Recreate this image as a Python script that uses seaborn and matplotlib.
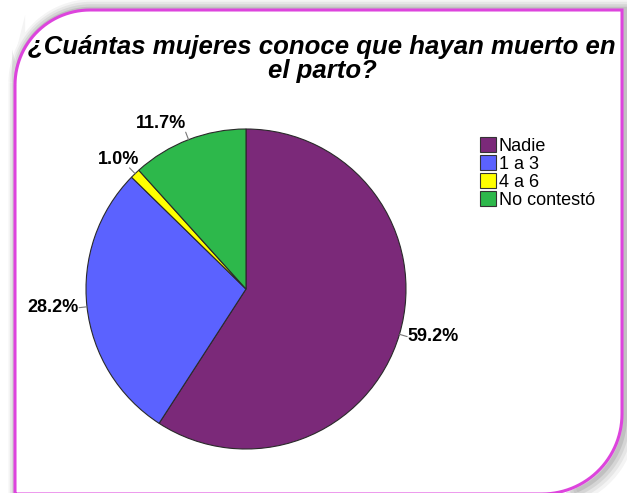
"""
Pie chart: ¿Cuántas mujeres conoce que hayan muerto en el parto?
SPSS-style pie with a rounded magenta frame
"""

import numpy as np
import matplotlib.pyplot as plt
import seaborn as sns
from matplotlib.path import Path
from matplotlib.patches import PathPatch, Patch

# Data
categories = ['Nadie', '1 a 3', '4 a 6', 'No contestó']
percentages = [59.2, 28.2, 1.0, 11.7]
slice_colors = ['#7B2979', '#5B62FF', '#FFFF00', '#2DB84B']
title = '¿Cuántas mujeres conoce que hayan muerto en\nel parto?'

W, H = 627, 493

sns.set_theme(style='white')
plt.rcParams['font.family'] = ['Liberation Sans', 'DejaVu Sans']
plt.rcParams['text.color'] = 'black'

fig = plt.figure(figsize=(W / 100, H / 100), dpi=100)
fig.patch.set_facecolor('white')

# Background axes in pixel coordinates for the frame decoration
bg = fig.add_axes([0, 0, 1, 1])
bg.set_xlim(0, W)
bg.set_ylim(H, 0)
bg.axis('off')


def frame_path(left, top, right, bottom, r1, r2, n=30):
    """Rectangle with rounded top-left and bottom-right corners"""
    pts = [(left, bottom + 20), (left, top + r1)]
    a = np.linspace(np.pi, 1.5 * np.pi, n)
    pts += [(left + r1 + r1 * np.cos(t), top + r1 + r1 * np.sin(t)) for t in a]
    pts += [(right, top), (right, bottom - r2)]
    a = np.linspace(0, 0.5 * np.pi, n)
    pts += [(right - r2 + r2 * np.cos(t), bottom - r2 + r2 * np.sin(t)) for t in a]
    pts += [(left, bottom), (left, bottom + 20)]
    return Path(pts)


# Soft gray shadow, then the white card and magenta outline
for off, lw, alpha in [(6, 12, 0.06), (5, 9, 0.08), (4, 6, 0.10), (3, 3, 0.14)]:
    p = frame_path(15 + off * 0.3, 10 - off * 0.4, 622 + off, 494 + off, 75, 80)
    bg.add_patch(PathPatch(p, facecolor='none', edgecolor='#444444',
                           lw=lw, alpha=alpha, zorder=1))
fp = frame_path(15, 10, 622, 494, 75, 80)
bg.add_patch(PathPatch(fp, facecolor='white', edgecolor='none', zorder=2))

# Title
fig.text(322 / W, 1 - 35 / H, title, ha='center', va='top',
         fontsize=18.5, fontweight='bold', style='italic',
         linespacing=1.0, color='black', zorder=3)

bg.add_patch(PathPatch(fp, facecolor='none', edgecolor='#DD44DD',
                       lw=2.2, zorder=10))

# Pie axes: center (246, 289), radius 160 px
cx, cy, rad = 246, 289, 160
ax = fig.add_axes([(cx - rad) / W, (H - cy - rad) / H, 2 * rad / W, 2 * rad / H])
ax.patch.set_alpha(0)
wedges, _ = ax.pie(
    percentages,
    colors=slice_colors,
    startangle=90,
    counterclock=False,
    wedgeprops={'edgecolor': '#2a2a2a', 'linewidth': 0.8}
)
ax.set_xlim(-1, 1)
ax.set_ylim(-1, 1)
ax.set_aspect('equal')
ax.axis('off')

# Percentage labels with short leader lines
for w, pct in zip(wedges, percentages):
    theta = np.deg2rad((w.theta1 + w.theta2) / 2)
    c, s = np.cos(theta), np.sin(theta)
    ax.plot([c, 1.05 * c], [s, 1.05 * s], color='#777777', lw=0.8,
            clip_on=False)
    ha = 'right' if c < 0 else 'left'
    va = 'bottom' if s > 0.5 else ('top' if s < -0.5 else 'center')
    # diagonal slices: let the label sit a little over the leader end
    dx = 0.06 if (c < 0 and s > 0.5 and abs(c) > 0.5) else 0.0
    ax.text(1.05 * c + dx, 1.05 * s, f'{pct:.1f}%', ha=ha, va=va,
            fontsize=13, fontweight='bold', color='black', clip_on=False)

# Legend
handles = [Patch(facecolor=col, edgecolor='#333333', linewidth=0.8)
           for col in slice_colors]
leg = fig.legend(
    handles, categories,
    loc='upper left',
    bbox_to_anchor=(480 / W, 1 - 137 / H),
    frameon=False,
    fontsize=13,
    handlelength=0.9,
    handleheight=0.9,
    handletextpad=0.15,
    labelspacing=0.02,
    borderpad=0,
    borderaxespad=0
)
for t in leg.get_texts():
    t.set_color('black')

plt.savefig('out.png', dpi=100, facecolor='white')
plt.close()
